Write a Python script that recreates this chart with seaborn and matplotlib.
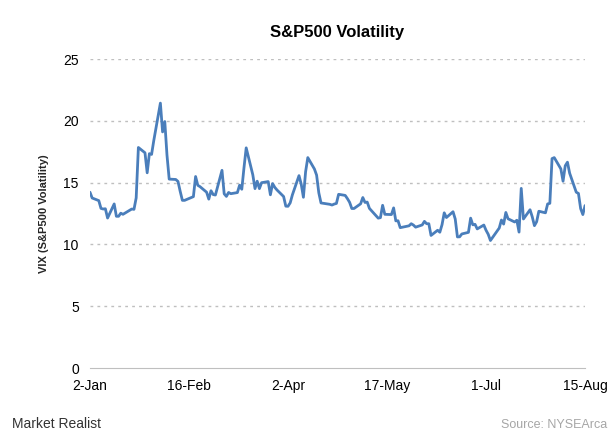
import pandas as pd
import matplotlib.pyplot as plt
import seaborn as sns

# VIX daily close, Jan-Aug 2014
dates = [
    "2014-01-02", "2014-01-03", "2014-01-06", "2014-01-07", "2014-01-08", "2014-01-09",
    "2014-01-10", "2014-01-13", "2014-01-14", "2014-01-15", "2014-01-16", "2014-01-17",
    "2014-01-21", "2014-01-22", "2014-01-23", "2014-01-24", "2014-01-27", "2014-01-28",
    "2014-01-29", "2014-01-30", "2014-01-31", "2014-02-03", "2014-02-04", "2014-02-05",
    "2014-02-06", "2014-02-07", "2014-02-10", "2014-02-11", "2014-02-12", "2014-02-13",
    "2014-02-14", "2014-02-18", "2014-02-19", "2014-02-20", "2014-02-21", "2014-02-24",
    "2014-02-25", "2014-02-26", "2014-02-27", "2014-02-28", "2014-03-03", "2014-03-04",
    "2014-03-05", "2014-03-06", "2014-03-07", "2014-03-10", "2014-03-11", "2014-03-12",
    "2014-03-13", "2014-03-14", "2014-03-17", "2014-03-18", "2014-03-19", "2014-03-20",
    "2014-03-21", "2014-03-24", "2014-03-25", "2014-03-26", "2014-03-27", "2014-03-28",
    "2014-03-31", "2014-04-01", "2014-04-02", "2014-04-03", "2014-04-04", "2014-04-07",
    "2014-04-08", "2014-04-09", "2014-04-10", "2014-04-11", "2014-04-14", "2014-04-15",
    "2014-04-16", "2014-04-17", "2014-04-21", "2014-04-22", "2014-04-23", "2014-04-24",
    "2014-04-25", "2014-04-28", "2014-04-29", "2014-04-30", "2014-05-01", "2014-05-02",
    "2014-05-05", "2014-05-06", "2014-05-07", "2014-05-08", "2014-05-09", "2014-05-12",
    "2014-05-13", "2014-05-14", "2014-05-15", "2014-05-16", "2014-05-19", "2014-05-20",
    "2014-05-21", "2014-05-22", "2014-05-23", "2014-05-27", "2014-05-28", "2014-05-29",
    "2014-05-30", "2014-06-02", "2014-06-03", "2014-06-04", "2014-06-05", "2014-06-06",
    "2014-06-09", "2014-06-10", "2014-06-11", "2014-06-12", "2014-06-13", "2014-06-16",
    "2014-06-17", "2014-06-18", "2014-06-19", "2014-06-20", "2014-06-23", "2014-06-24",
    "2014-06-25", "2014-06-26", "2014-06-27", "2014-06-30", "2014-07-01", "2014-07-02",
    "2014-07-03", "2014-07-07", "2014-07-08", "2014-07-09", "2014-07-10", "2014-07-11",
    "2014-07-14", "2014-07-15", "2014-07-16", "2014-07-17", "2014-07-18", "2014-07-21",
    "2014-07-22", "2014-07-23", "2014-07-24", "2014-07-25", "2014-07-28", "2014-07-29",
    "2014-07-30", "2014-07-31", "2014-08-01", "2014-08-04", "2014-08-05", "2014-08-06",
    "2014-08-07", "2014-08-08", "2014-08-11", "2014-08-12", "2014-08-13", "2014-08-14",
    "2014-08-15",
]
vix = [
    14.23, 13.76, 13.55, 12.92, 12.87, 12.89,
    12.14, 13.28, 12.28, 12.28, 12.53, 12.44,
    12.87, 12.84, 13.77, 17.85, 17.42, 15.80,
    17.35, 17.29, 18.41, 21.44, 19.11, 19.95,
    17.23, 15.29, 15.26, 15.10, 14.30, 13.57,
    13.57, 13.87, 15.50, 14.79, 14.68, 14.23,
    13.67, 14.35, 14.04, 14.00, 16.00, 14.10,
    13.89, 14.21, 14.11, 14.20, 14.80, 14.47,
    16.22, 17.82, 15.64, 14.52, 15.12, 14.52,
    15.00, 15.09, 14.02, 14.93, 14.62, 14.41,
    13.88, 13.10, 13.09, 13.37, 14.02, 15.57,
    14.89, 13.82, 15.89, 17.03, 16.11, 15.61,
    14.18, 13.36, 13.25, 13.19, 13.27, 13.32,
    14.06, 13.97, 13.71, 13.41, 12.91, 12.91,
    13.29, 13.80, 13.40, 13.43, 12.92, 12.32,
    12.13, 12.17, 13.17, 12.44, 12.42, 12.96,
    11.91, 11.92, 11.36, 11.51, 11.68, 11.57,
    11.40, 11.58, 11.87, 11.68, 11.68, 10.73,
    11.15, 10.99, 11.60, 12.56, 12.18, 12.65,
    12.06, 10.61, 10.62, 10.85, 10.98, 12.13,
    11.59, 11.63, 11.26, 11.57, 11.15, 10.82,
    10.32, 11.33, 11.98, 11.65, 12.59, 12.08,
    11.82, 11.96, 11.00, 14.54, 12.06, 12.81,
    12.24, 11.52, 11.84, 12.69, 12.56, 13.28,
    13.33, 16.95, 17.03, 16.12, 15.12, 16.37,
    16.66, 15.77, 14.23, 14.13, 12.90, 12.42,
    13.15,
]
tick_dates = ["2014-01-02", "2014-02-16", "2014-04-02", "2014-05-17", "2014-07-01", "2014-08-15"]
tick_labels = ["2-Jan", "16-Feb", "2-Apr", "17-May", "1-Jul", "15-Aug"]
y_ticks = [0, 5, 10, 15, 20, 25]

df = pd.DataFrame({"date": pd.to_datetime(dates), "vix": vix})

sns.set_style("white")
plt.rcParams["font.family"] = ["Liberation Sans", "DejaVu Sans"]

fig = plt.figure(figsize=(6.15, 4.4), dpi=100)
ax = fig.add_axes([0.1463, 0.1636, 0.805, 0.702])

sns.lineplot(data=df, x="date", y="vix", ax=ax, color="#4a7ebb", linewidth=2)

ax.set_xlim(pd.Timestamp(tick_dates[0]), pd.Timestamp(tick_dates[-1]))
ax.set_ylim(0, 25)
ax.set_xticks(pd.to_datetime(tick_dates))
ax.set_xticklabels(tick_labels, fontsize=10, color="black")
ax.set_yticks(y_ticks)
ax.set_yticklabels([str(v) for v in y_ticks], fontsize=10, color="black")

# dotted gridlines like the original
for v in y_ticks[1:]:
    ax.axhline(v, color="#bfbfbf", linestyle=(0, (2, 3)), linewidth=1, zorder=0)

for side in ["top", "right", "left"]:
    ax.spines[side].set_visible(False)
ax.spines["bottom"].set_color("#bfbfbf")
ax.tick_params(axis="x", length=5, color="#bfbfbf", pad=3)
ax.tick_params(axis="y", length=0, pad=8)

ax.set_xlabel("")
ax.set_ylabel("VIX (S&P500 Volatility)", fontsize=8, fontweight="bold", labelpad=10)
ax.set_title("S&P500 Volatility", fontsize=12, fontweight="bold", color="black", pad=16)

fig.text(0.02, 0.028, "Market Realist", fontsize=10, color="#333333")
fig.text(0.988, 0.028, "Source: NYSEArca", fontsize=9, color="#a6a6a6", ha="right")

plt.savefig("out.png", dpi=100)
plt.close()
